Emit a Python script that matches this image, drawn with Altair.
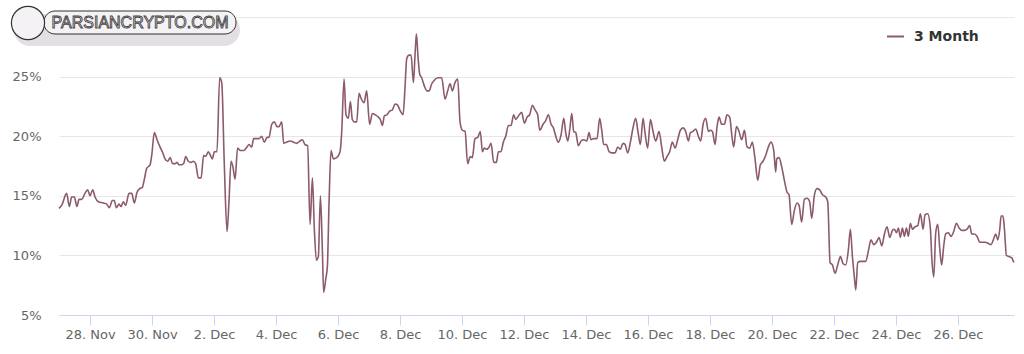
import altair as alt
import pandas as pd

SERIES = "3 Month"
START = "2020-11-27T00:00:00"
END = (2020, 12, 27, 19, 24)

# hours since start of the period, and the 3-month value (%) at each
HOURS_A = [0, 2.1, 5.9, 8.0, 9.8, 11.9, 13.9, 15.5, 17.6, 20.1, 22.2, 24.0, 26.1, 27.9, 30.5, 34.3, 36.9, 39.0,
           41.3, 42.8, 44.4, 46.5, 48.0, 49.8, 51.6, 54.2, 56.3, 58.3, 60.4, 62.5, 64.5, 66.1, 67.9, 70.5, 71.8,
           73.8, 75.9, 78.2, 80.0, 82.1, 84.1, 86.2, 87.8, 89.8, 91.4, 92.9, 95.0, 96.5, 98.1, 100.1, 102.2,
           104.0, 105.8, 107.9, 110.0, 112.0, 113.6, 115.6, 117.2, 118.7, 120.3, 122.3, 124.4, 126.0, 128.0,
           130.1, 131.6, 133.2, 134.7, 136.3, 138.3, 140.4, 143.0, 145.6, 147.1, 149.2, 150.7, 152.8, 154.9,
           156.9, 159.0, 161.1, 162.6, 164.7, 166.7, 168.8, 170.3, 172.4, 174.0, 176.0, 179.1, 181.7, 183.8, 186.6]
VALUES_A = [13.95, 14.2, 15.2, 14.1, 14.9, 14.9, 14.1, 14.7, 14.7, 15.2, 15.5, 15.0, 15.5, 14.9, 14.5, 14.4, 14.3, 14.0,
            14.6, 14.6, 14.0, 14.3, 14.1, 14.5, 14.2, 15.2, 15.2, 14.4, 15.3, 15.6, 15.7, 16.4, 17.3, 17.6, 18.4,
            20.3, 19.7, 19.1, 18.7, 18.1, 17.9, 18.2, 17.7, 17.7, 17.8, 17.6, 17.6, 17.7, 18.3, 17.9, 17.8,
            17.9, 17.7, 16.5, 16.5, 18.4, 18.3, 18.7, 18.4, 18.1, 18.7, 18.7, 24.9, 24.5, 17.6,
            12.0, 14.5, 17.9, 17.4, 16.4, 19.0, 18.8, 18.8, 19.1, 19.3, 19.1, 19.8, 19.8, 19.8,
            20.0, 19.5, 19.9, 19.9, 21.0, 21.2, 20.8, 20.8, 21.2, 19.4, 19.5, 19.6, 19.5, 19.4, 19.6]

HOURS_B = [188.4, 190.5, 192.5, 194.4, 196.2, 197.7, 199.3, 200.8, 202.4, 203.9, 204.9, 206.5, 207.8, 209.1, 210.6,
           212.4, 215.0, 217.6, 218.9, 220.7, 222.2, 224.0, 225.6, 227.1, 228.7, 230.5, 232.3, 233.8, 236.2, 238.2,
           240.5, 242.6, 244.7, 247.3, 248.8, 250.4, 251.9, 254.0, 256.0, 258.1, 260.2, 262.2, 264.3, 266.4, 267.9,
           269.2, 271.0, 272.6, 274.4, 275.7, 276.7, 278.0, 279.3, 280.8, 282.9, 284.9, 286.5, 288.6, 290.6, 293.2,
           296.3, 298.9, 300.9, 302.8, 304.6, 306.6, 308.7, 310.5, 312.3, 314.4, 316.4, 318.5, 320.0, 322.1, 324.2,
           326.2, 327.8, 329.3, 331.1, 333.0, 334.5, 336.6, 338.6, 340.2, 342.2, 344.0, 345.9, 347.9, 350.0, 352.0,
           353.6, 355.7, 358.2, 360.3, 362.4, 364.4, 366.5, 368.6, 370.6, 372.2]
VALUES_B = [19.7, 19.3, 19.2, 12.6, 16.5, 12.2, 9.6, 9.9, 15.0, 10.5, 6.9, 8.0, 9.1, 14.5, 18.8,
            18.1, 18.2, 18.7, 20.4, 24.8, 21.8, 21.5, 22.9, 21.4, 21.2, 21.2, 23.6, 23.2, 22.8, 23.8,
            21.0, 21.9, 21.8, 21.6, 21.4, 20.9, 21.7, 21.8, 22.1, 22.2, 22.7, 22.6, 22.1, 21.8, 24.1,
            26.5, 26.8, 26.8, 24.5, 26.9, 28.6, 26.6, 25.2, 24.9, 24.2, 23.8, 23.8, 24.4, 24.7, 24.9,
            24.9, 23.1, 23.8, 24.4, 23.8, 24.5, 24.8, 21.2, 20.5, 20.4, 17.7, 18.3, 18.2, 19.8, 19.9,
            20.4, 18.7, 19.0, 18.9, 19.1, 19.4, 17.8, 17.8, 18.7, 18.7, 19.5, 20.0, 20.9, 20.9, 21.8,
            21.4, 21.7, 22.0, 21.1, 21.6, 21.8, 22.6, 22.2, 21.8, 20.5]

HOURS_C = [374.8, 376.8, 378.9, 381.0, 382.8, 384.6, 386.6, 388.7, 390.8, 392.3, 393.9, 395.4, 397.0, 398.5, 400.1,
           402.1, 404.2, 406.2, 408.6, 410.4, 411.9, 414.0, 416.6, 418.6, 420.2, 421.7, 423.8, 425.9, 427.9, 430.5,
           432.6, 434.6, 436.7, 438.3, 440.3, 442.4, 444.4, 446.5, 448.1, 450.1, 452.2, 453.7, 455.8, 457.9, 459.9,
           462.0, 464.6, 466.6, 468.7, 470.8, 472.8, 474.9, 477.0, 479.0, 481.1, 483.2, 485.2, 487.3, 488.8, 490.9,
           493.0, 495.0, 496.8, 498.7, 500.7, 502.8, 504.3, 505.9, 507.9, 509.5, 511.0, 513.1, 515.2, 517.2, 519.3,
           520.9, 522.4, 524.5, 526.5, 528.6, 530.7, 532.7, 534.8, 536.8, 538.9, 541.0, 543.0, 545.1, 547.2, 549.2,
           551.3, 553.4, 554.9]
VALUES_C = [21.0, 21.3, 21.8, 21.0, 20.7, 20.0, 19.5, 20.1, 21.5, 20.3, 19.6, 20.5, 21.9, 20.4, 20.3,
            19.2, 19.6, 19.7, 19.6, 20.3, 19.7, 19.8, 19.8, 21.5, 20.5, 19.3, 19.3, 18.7, 18.6, 18.6,
            19.1, 18.9, 19.4, 19.3, 18.6, 19.5, 20.7, 21.5, 20.5, 19.3, 21.5, 20.3, 19.0, 21.4, 20.4,
            19.6, 20.4, 19.1, 17.9, 18.3, 18.7, 19.5, 19.0, 19.7, 20.5, 20.7, 20.4, 19.6, 20.3, 20.4,
            20.6, 20.0, 19.6, 21.0, 21.5, 20.4, 20.5, 20.4, 19.3, 20.8, 21.6, 21.0, 21.0, 21.8, 21.6,
            20.1, 19.1, 20.8, 20.4, 19.7, 20.5, 19.1, 19.0, 19.5, 18.1, 16.3, 17.6, 17.9, 18.4, 19.1,
            19.5, 18.8, 17.0]

HOURS_D = [555.7, 557.5, 559.6, 561.6, 563.7, 565.2, 567.3, 569.4, 571.4, 573.0, 575.0, 577.1, 579.2, 581.2, 582.8,
           584.9, 586.9, 589.0, 591.0, 593.6, 595.2, 597.0, 598.8, 600.9, 602.9, 605.0, 607.1, 609.1, 611.2, 612.7,
           614.3, 615.8, 616.9, 618.4, 620.5, 622.5, 624.6, 626.7, 628.7, 630.8, 632.9, 634.9, 637.0, 639.1, 641.1,
           643.2, 645.3, 646.8, 648.4, 649.9, 651.4, 653.0, 654.5, 656.1, 657.6, 659.2, 660.7, 662.8, 664.9, 666.9,
           669.0, 670.5, 672.6, 674.7, 675.7, 677.3, 678.8, 680.4, 681.9, 683.4, 685.0, 686.5, 688.6, 690.7, 692.7,
           694.8, 696.9, 698.9, 701.0, 703.1, 705.1, 706.7, 708.7, 710.8, 712.9, 714.9, 717.0, 719.6, 721.6, 723.7,
           725.3, 726.8, 728.4, 729.4, 730.9, 732.0, 733.5, 735.6, 737.7, 739.2]
VALUES_D = [18.1, 18.2, 17.4, 16.3, 15.3, 15.1, 12.6, 13.8, 14.4, 14.2, 12.8, 14.7, 14.8, 14.5, 13.1,
            15.1, 15.6, 15.5, 15.1, 14.9, 14.5, 9.4, 9.2, 8.5, 9.2, 9.9, 9.3, 9.2, 10.5, 12.2,
            9.9, 8.2, 7.1, 9.4, 9.5, 9.5, 9.5, 10.4, 11.3, 10.9, 11.1, 11.5, 10.8, 11.8, 12.4,
            11.5, 12.1, 12.2, 11.9, 12.3, 11.5, 12.3, 11.6, 12.3, 11.6, 12.7, 12.2, 12.4, 12.5, 13.5,
            12.2, 13.4, 13.5, 12.2, 9.9, 8.2, 11.9, 12.6, 10.6, 9.2, 10.8, 11.8, 11.9, 11.6, 12.0,
            12.7, 12.3, 12.1, 12.1, 12.2, 12.5, 11.8, 11.8, 11.6, 11.1, 11.1, 11.1, 11.0, 10.9, 11.4,
            11.8, 11.3, 12.2, 13.3, 13.3, 12.2, 10.0, 9.9, 9.8, 9.4]

TICK_DAYS = [(11, 28), (11, 30), (12, 2), (12, 4), (12, 6), (12, 8), (12, 10), (12, 12),
             (12, 14), (12, 16), (12, 18), (12, 20), (12, 22), (12, 24), (12, 26)]
Y_TICKS = [5, 10, 15, 20, 25, 30]
WATERMARK = "PARSIANCRYPTO.COM"

LINE_COLOR = "#8c5a6e"

hours = HOURS_A + HOURS_B + HOURS_C + HOURS_D
values = VALUES_A + VALUES_B + VALUES_C + VALUES_D
start = pd.Timestamp(START)
df = pd.DataFrame({
    "time": [(start + pd.Timedelta(hours=h)).strftime("%Y-%m-%dT%H:%M:%S") for h in hours],
    "value": values,
    "series": SERIES,
})

x_domain = [alt.DateTime(year=2020, month=11, date=27, hours=0),
            alt.DateTime(year=END[0], month=END[1], date=END[2], hours=END[3], minutes=END[4])]
x_ticks = [alt.DateTime(year=2020, month=m, date=d) for m, d in TICK_DAYS]

line = alt.Chart(df).mark_line(interpolate="monotone", strokeWidth=1.6).encode(
    x=alt.X("time:T", title=None,
            scale=alt.Scale(domain=x_domain),
            axis=alt.Axis(values=x_ticks, format="%-d. %b", grid=False,
                          domainColor="#ccd6eb", tickColor="#ccd6eb", tickSize=10,
                          labelPadding=3, labelFlush=False, labelOverlap=False)),
    y=alt.Y("value:Q", title=None,
            scale=alt.Scale(domain=[5, 30], nice=False, zero=False),
            axis=alt.Axis(values=Y_TICKS, domain=False, ticks=False, grid=True,
                          gridColor="#e6e6e6", labelPadding=18,
                          labelExpr="datum.value == 30 ? '' : datum.value + '%'")),
    color=alt.Color("series:N", scale=alt.Scale(range=[LINE_COLOR]),
                    legend=alt.Legend(title=None, orient="none", legendX=827, legendY=10,
                                      symbolType="stroke", symbolSize=289, symbolStrokeWidth=2,
                                      labelFont="DejaVu Sans", labelFontSize=14,
                                      labelFontWeight="bold", labelColor="#333333",
                                      labelOffset=9, padding=0)),
)

one = alt.Data(values=[{}])
shadow = alt.Chart(one).mark_rect(color="#e3dfe3", cornerRadius=16).encode(
    x=alt.value(-45), x2=alt.value(181), y=alt.value(-3), y2=alt.value(29))
pill = alt.Chart(one).mark_rect(fill="#f4f2f4", stroke="#333333", strokeWidth=1, cornerRadius=11).encode(
    x=alt.value(-15), x2=alt.value(177), y=alt.value(-6), y2=alt.value(17))
badge = alt.Chart(one).mark_point(shape="circle", size=1100, filled=True, fill="#f4f2f4",
                                  stroke="#333333", strokeWidth=1.2, opacity=1).encode(
    x=alt.value(-31), y=alt.value(6))
wm_text = alt.Chart(one).mark_text(text=WATERMARK, font="Liberation Sans", fontSize=16,
                                   fill="#ffffff", stroke="#444444", strokeWidth=0.9,
                                   align="center", baseline="middle").encode(
    x=alt.value(81), y=alt.value(6))

chart = alt.layer(line, shadow, pill, badge, wm_text).properties(
    width=955, height=298,
    autosize=alt.AutoSizeParams(type="none"),
    padding={"left": 59, "top": 17, "right": 10, "bottom": 39},
).configure_view(stroke=None).configure_axis(
    labelFont="DejaVu Sans", labelFontSize=13, labelColor="#666666"
)

chart.save("out.html", embed_options={"renderer": "svg", "actions": False})
